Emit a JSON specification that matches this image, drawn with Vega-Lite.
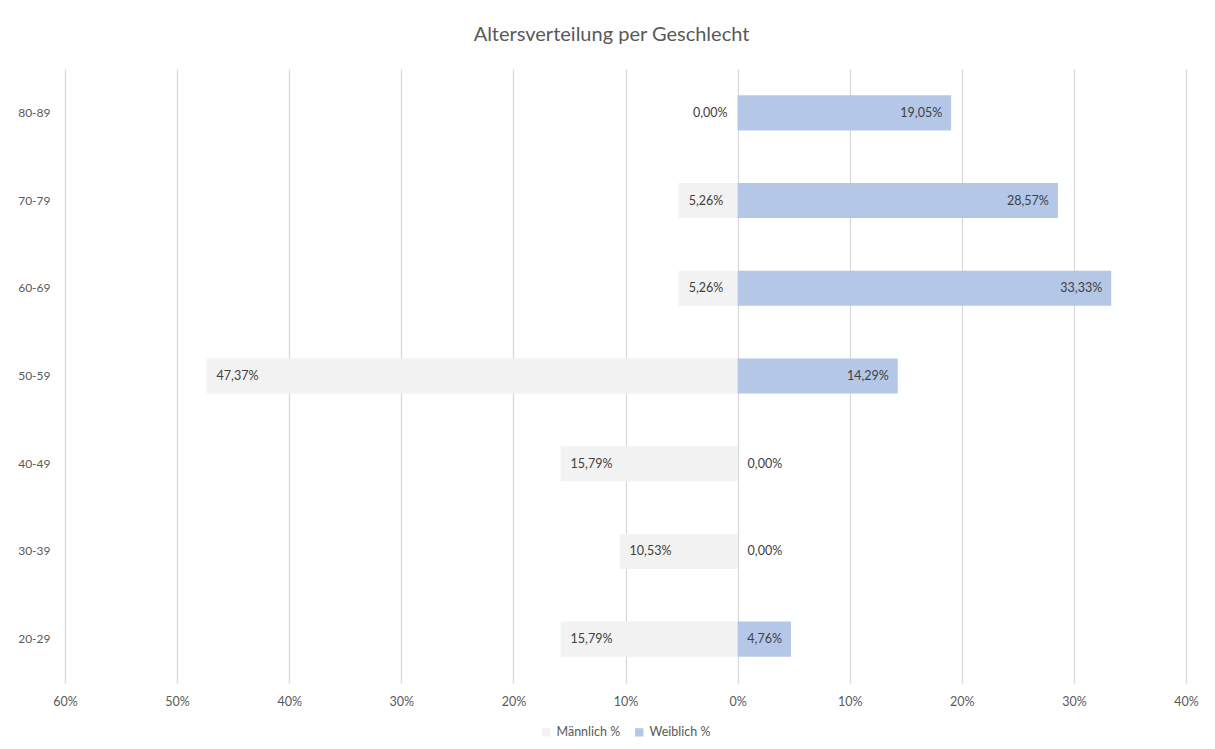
{
  "$schema": "https://vega.github.io/schema/vega-lite/v6.json",
  "width": 1121,
  "height": 614,
  "autosize": {"type": "none"},
  "padding": {"left": 65, "top": 69, "right": 29, "bottom": 66},
  "background": "white",
  "config": {
    "locale": {"number": {"decimal": ",", "thousands": ".", "grouping": [3], "currency": ["", " €"]}},
    "view": {"stroke": null},
    "font": "Lato",
    "legend": {"layout": {"bottom": {"anchor": "middle"}}}
  },
  "title": {
    "text": "Altersverteilung per Geschlecht",
    "fontSize": 20,
    "fontWeight": "normal",
    "color": "#595959",
    "offset": 24,
    "dx": -14
  },
  "data": {
    "values": [
      {"Altersgruppe": "80-89", "Geschlecht": "Männlich %", "Anteil": 0},
      {"Altersgruppe": "70-79", "Geschlecht": "Männlich %", "Anteil": -0.0526},
      {"Altersgruppe": "60-69", "Geschlecht": "Männlich %", "Anteil": -0.0526},
      {"Altersgruppe": "50-59", "Geschlecht": "Männlich %", "Anteil": -0.4737},
      {"Altersgruppe": "40-49", "Geschlecht": "Männlich %", "Anteil": -0.1579},
      {"Altersgruppe": "30-39", "Geschlecht": "Männlich %", "Anteil": -0.1053},
      {"Altersgruppe": "20-29", "Geschlecht": "Männlich %", "Anteil": -0.1579},
      {"Altersgruppe": "80-89", "Geschlecht": "Weiblich %", "Anteil": 0.1905},
      {"Altersgruppe": "70-79", "Geschlecht": "Weiblich %", "Anteil": 0.2857},
      {"Altersgruppe": "60-69", "Geschlecht": "Weiblich %", "Anteil": 0.3333},
      {"Altersgruppe": "50-59", "Geschlecht": "Weiblich %", "Anteil": 0.1429},
      {"Altersgruppe": "40-49", "Geschlecht": "Weiblich %", "Anteil": 0},
      {"Altersgruppe": "30-39", "Geschlecht": "Weiblich %", "Anteil": 0},
      {"Altersgruppe": "20-29", "Geschlecht": "Weiblich %", "Anteil": 0.0476}
    ]
  },
  "transform": [
    {"calculate": "format(abs(datum.Anteil), '.2%')", "as": "Label"}
  ],
  "encoding": {
    "y": {
      "field": "Altersgruppe",
      "type": "nominal",
      "sort": ["80-89", "70-79", "60-69", "50-59", "40-49", "30-39", "20-29"],
      "scale": {"paddingInner": 0.6, "paddingOuter": 0.3},
      "axis": {
        "title": null,
        "ticks": false,
        "domain": false,
        "grid": false,
        "labelPadding": 15,
        "labelColor": "#595959",
        "labelFontSize": 12
      }
    },
    "x": {
      "field": "Anteil",
      "type": "quantitative",
      "scale": {"domain": [-0.6, 0.4], "nice": false, "zero": false},
      "axis": {
        "title": null,
        "values": [-0.6, -0.5, -0.4, -0.3, -0.2, -0.1, 0, 0.1, 0.2, 0.3, 0.4],
        "labelExpr": "format(abs(datum.value), '.0%')",
        "labelFlush": false,
        "grid": true,
        "gridColor": "#d9d9d9",
        "gridWidth": 1.3,
        "domain": false,
        "ticks": false,
        "labelPadding": 12,
        "labelColor": "#595959",
        "labelFontSize": 12.5
      }
    }
  },
  "layer": [
    {
      "mark": {"type": "bar"},
      "encoding": {
        "x": {"field": "Anteil", "type": "quantitative", "stack": null},
        "color": {
          "field": "Geschlecht",
          "type": "nominal",
          "scale": {"domain": ["Männlich %", "Weiblich %"], "range": ["#f2f2f2", "#b4c7e7"]},
          "legend": {
            "orient": "bottom",
            "direction": "horizontal",
            "title": null,
            "symbolType": "square",
            "symbolSize": 70,
            "symbolStrokeWidth": 0,
            "labelFontSize": 12.5,
            "labelColor": "#595959",
            "columnPadding": 12,
            "offset": 18
          }
        }
      }
    },
    {
      "transform": [{"filter": "datum.Geschlecht == 'Männlich %' && datum.Anteil < 0"}],
      "mark": {"type": "text", "align": "left", "dx": 10, "fontSize": 12.5, "color": "#404040"},
      "encoding": {"text": {"field": "Label"}}
    },
    {
      "transform": [{"filter": "datum.Geschlecht == 'Männlich %' && datum.Anteil == 0"}],
      "mark": {"type": "text", "align": "right", "dx": -10, "fontSize": 12.5, "color": "#404040"},
      "encoding": {"text": {"field": "Label"}}
    },
    {
      "transform": [{"filter": "datum.Geschlecht == 'Weiblich %' && datum.Anteil > 0"}],
      "mark": {"type": "text", "align": "right", "dx": -9, "fontSize": 12.5, "color": "#404040"},
      "encoding": {"text": {"field": "Label"}}
    },
    {
      "transform": [{"filter": "datum.Geschlecht == 'Weiblich %' && datum.Anteil == 0"}],
      "mark": {"type": "text", "align": "left", "dx": 10, "fontSize": 12.5, "color": "#404040"},
      "encoding": {"text": {"field": "Label"}}
    }
  ]
}
